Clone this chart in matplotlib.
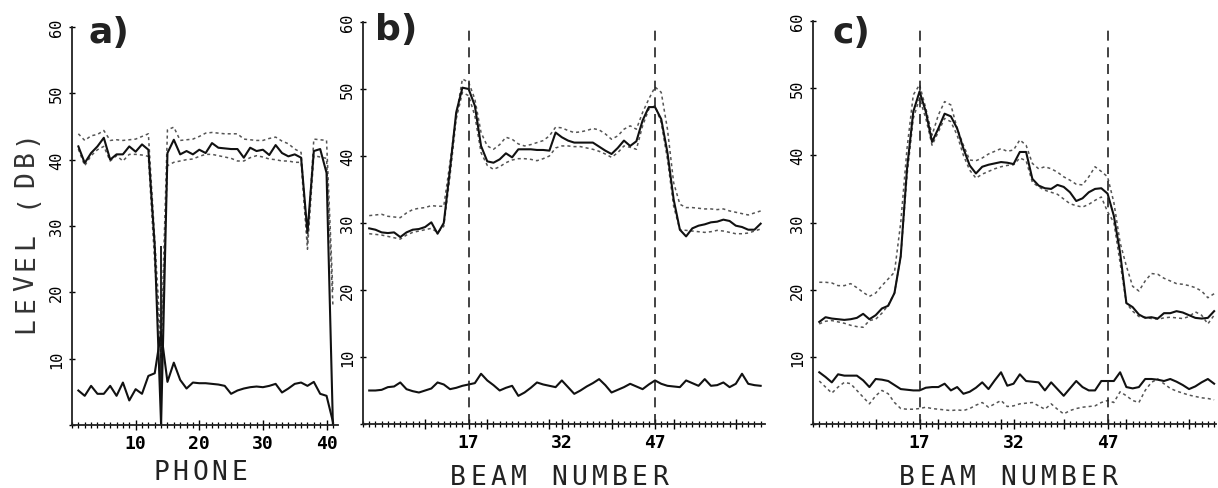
import numpy as np
import matplotlib
matplotlib.use("Agg")
import matplotlib.pyplot as plt
from matplotlib.ticker import MultipleLocator

W, H = 1218, 489

# ---- panel a : level per phone ----
phones = np.arange(1, 42)
a_main = [42.0, 39.5, 41.0, 42.0, 43.3, 40.0, 40.8, 40.8, 42.0, 41.2,
          42.3, 41.5, 27.0, 0.0, 41.0, 43.0, 40.8, 41.3, 40.8, 41.5,
          41.0, 42.5, 41.8, 41.7, 41.6, 41.6, 40.3, 41.8, 41.3, 41.5,
          40.7, 42.2, 41.0, 40.5, 40.8, 40.3, 29.0, 41.3, 41.6, 38.0, 0.0]
a_upper = [43.9, 42.9, 43.6, 43.8, 44.4, 42.9, 43.0, 42.9, 43.0, 43.1,
           43.5, 43.9, 28.0, 12.0, 44.5, 44.9, 42.9, 43.0, 43.1, 43.5,
           44.0, 44.1, 44.0, 43.9, 43.9, 43.9, 43.1, 43.0, 42.9, 42.9,
           43.2, 43.4, 42.8, 42.4, 41.6, 41.1, 27.5, 43.1, 43.0, 42.9, 20.0]
a_lower = [41.6, 39.1, 40.6, 41.5, 42.0, 39.8, 40.6, 39.8, 40.8, 40.8,
           40.7, 40.5, 24.5, 10.0, 39.1, 39.6, 39.8, 40.0, 40.1, 40.5,
           40.8, 40.8, 40.6, 40.4, 40.2, 39.8, 39.8, 40.3, 40.6, 40.4,
           40.1, 40.0, 39.8, 39.8, 39.6, 39.6, 26.5, 40.6, 40.4, 40.2, 18.0]
a_noise = [5.2, 4.4, 5.9, 4.7, 4.7, 5.9, 4.4, 6.4, 3.7, 5.4,
           4.7, 7.4, 7.8, 14.0, 6.5, 9.4, 6.8, 5.5, 6.4, 6.3,
           6.3, 6.2, 6.1, 5.9, 4.7, 5.2, 5.5, 5.7, 5.8, 5.7,
           5.9, 6.2, 4.9, 5.5, 6.2, 6.4, 5.9, 6.5, 4.7, 4.4, 0.5]
a_bad_phone = 14

# ---- panel b : level per beam ----
beams = np.arange(1, 65)
b_main = [29.2, 29.0, 28.6, 28.5, 28.6, 27.9, 28.6, 29.0, 29.1, 29.4,
          30.1, 28.4, 30.0, 38.0, 46.5, 50.2, 50.0, 47.5, 41.5, 39.2,
          39.0, 39.5, 40.4, 39.8, 41.0, 41.0, 41.0, 40.9, 40.9, 40.8,
          43.5, 42.8, 42.3, 42.0, 42.0, 42.0, 42.0, 41.4, 40.8, 40.3,
          41.2, 42.3, 41.5, 42.2, 45.3, 47.3, 47.3, 45.5, 40.5, 33.5,
          29.0, 28.0, 29.2, 29.6, 29.8, 30.1, 30.2, 30.5, 30.3, 29.6,
          29.4, 29.0, 29.0, 29.9]
b_upper = [31.1, 31.2, 31.3, 31.0, 30.9, 30.8, 31.5, 32.0, 32.2, 32.3,
           32.6, 32.5, 32.5, 39.0, 46.0, 51.5, 51.0, 48.5, 43.5, 41.5,
           41.0, 41.7, 42.8, 42.5, 41.8, 41.5, 41.7, 42.0, 42.3, 43.0,
           44.3, 44.2, 43.8, 43.5, 43.6, 43.8, 44.1, 43.9, 43.3, 42.5,
           43.0, 44.0, 44.5, 44.0, 46.5, 48.5, 50.3, 49.5, 44.0, 36.0,
           32.8, 32.3, 32.3, 32.2, 32.1, 32.1, 32.0, 32.1, 31.8, 31.6,
           31.4, 31.2, 31.5, 31.8]
b_lower = [28.4, 28.3, 28.2, 28.0, 27.8, 27.6, 28.2, 28.6, 28.8, 29.0,
           29.2, 28.6, 29.5, 37.0, 45.5, 49.5, 49.0, 46.0, 40.5, 38.6,
           38.0, 38.4, 39.0, 39.4, 39.6, 39.6, 39.5, 39.3, 39.6, 40.0,
           41.2, 41.5, 41.5, 41.4, 41.4, 41.2, 41.0, 40.7, 40.3, 39.8,
           40.5, 41.5, 41.3, 41.0, 44.5, 47.0, 47.5, 45.0, 39.5, 32.5,
           29.0, 28.9, 28.8, 28.7, 28.6, 28.7, 28.9, 28.8, 28.6, 28.4,
           28.4, 28.5, 28.8, 29.1]
b_noise = [5.0, 5.0, 5.1, 5.5, 5.6, 6.2, 5.2, 4.9, 4.7, 5.0,
           5.3, 6.2, 5.9, 5.2, 5.4, 5.7, 5.9, 6.1, 7.5, 6.5,
           5.8, 5.0, 5.4, 5.7, 4.2, 4.7, 5.4, 6.2, 5.9, 5.7,
           5.5, 6.5, 5.5, 4.5, 5.0, 5.6, 6.1, 6.7, 5.8, 4.7,
           5.1, 5.5, 6.0, 5.6, 5.2, 5.9, 6.5, 6.0, 5.7, 5.6,
           5.5, 6.5, 6.1, 5.7, 6.7, 5.7, 5.8, 6.2, 5.5, 6.0,
           7.5, 6.0, 5.8, 5.7]

# ---- panel c ----
c_main = [15.2, 15.9, 15.7, 15.6, 15.5, 15.6, 15.8, 16.4, 15.6, 16.2,
          17.2, 17.6, 19.5, 25.0, 38.0, 46.5, 49.5, 46.5, 42.0, 44.0,
          46.2, 45.8, 44.0, 41.0, 38.5, 37.3, 38.3, 38.6, 38.8, 39.0,
          38.9, 38.7, 40.5, 40.5, 36.5, 35.5, 35.1, 35.0, 35.6, 35.3,
          34.5, 33.2, 33.6, 34.5, 35.0, 35.1, 34.3, 31.0, 25.5, 18.0,
          17.4, 16.3, 15.8, 15.9, 15.7, 16.5, 16.5, 16.8, 16.6, 16.2,
          15.8, 15.7, 15.8, 16.8]
c_upper = [21.1, 21.1, 21.0, 20.6, 20.6, 20.9, 20.3, 19.6, 19.0, 19.5,
           20.6, 21.6, 22.6, 30.0, 41.0, 49.0, 50.5, 47.0, 43.0, 46.0,
           48.0, 47.5, 44.0, 41.5, 39.3, 39.2, 39.6, 40.2, 40.6, 41.0,
           40.6, 40.8, 42.3, 41.5, 38.8, 38.0, 38.3, 38.0, 37.5, 36.8,
           36.3, 35.7, 35.6, 36.8, 38.3, 37.6, 36.8, 33.0, 27.0, 23.5,
           20.5, 19.8, 21.3, 22.4, 22.3, 21.7, 21.3, 20.9, 20.8, 20.6,
           20.3, 19.8, 18.8, 19.4]
c_lower = [14.9, 15.3, 15.4, 15.2, 15.0, 14.7, 14.5, 14.4, 15.4, 15.6,
           16.5, 17.7, 19.5, 25.0, 37.0, 45.5, 48.5, 45.5, 41.5, 43.5,
           45.5, 45.0, 43.0, 40.0, 37.8, 36.6, 37.2, 37.6, 38.0, 38.3,
           38.5, 38.6, 39.6, 39.2, 36.0, 35.3, 34.8, 34.5, 34.2, 33.5,
           32.8, 32.5, 32.3, 32.7, 33.3, 33.8, 31.6, 30.0, 24.0, 18.0,
           16.8, 16.0, 15.9, 15.7, 15.6, 15.8, 15.9, 15.8, 15.7, 16.0,
           16.7, 16.2, 14.9, 16.2]
c_noise = [7.7, 7.0, 6.2, 7.4, 7.2, 7.2, 7.2, 6.5, 5.5, 6.7,
           6.6, 6.4, 5.8, 5.2, 5.1, 5.0, 5.0, 5.4, 5.5, 5.5,
           6.0, 5.0, 5.5, 4.5, 4.8, 5.4, 6.2, 5.2, 6.5, 7.7,
           5.7, 6.0, 7.4, 6.4, 6.3, 6.2, 5.0, 6.2, 5.2, 4.2,
           5.3, 6.4, 5.5, 5.0, 5.0, 6.4, 6.4, 6.4, 7.7, 5.5,
           5.3, 5.5, 6.7, 6.7, 6.6, 6.4, 6.7, 6.3, 5.8, 5.2,
           5.6, 6.2, 6.7, 6.0]
c_noise_low = [6.4, 5.5, 4.6, 5.5, 6.2, 6.0, 5.0, 4.0, 3.0, 4.2,
               5.0, 4.5, 3.2, 2.3, 2.2, 2.2, 2.3, 2.5, 2.3, 2.2,
               2.1, 2.0, 2.1, 2.0, 2.3, 2.8, 3.2, 2.5, 3.0, 3.5,
               2.6, 2.7, 3.0, 3.1, 3.2, 2.7, 2.2, 3.0, 2.2, 1.5,
               2.0, 2.3, 2.5, 2.6, 2.7, 3.2, 3.5, 3.2, 4.8, 4.2,
               3.5, 3.2, 5.0, 6.2, 6.7, 6.0, 5.3, 4.9, 4.6, 4.3,
               4.1, 3.9, 3.8, 3.6]

marked_beams = [17, 47]

SOLID = dict(color="#111111", lw=1.5, ls="-")
DOTTED = dict(color="#555555", lw=1.1, ls=(0, (2.0, 2.0)))
MONO = "DejaVu Sans Mono"


def spaced_text(fig, s, x, y, pitch, rot=0, **kw):
    # one glyph at a time so the letters get the wide plotter spacing
    n = len(s)
    for i, ch in enumerate(s):
        off = (i - (n - 1) / 2) * pitch
        if rot == 0:
            fig.text((x + off) / W, 1 - y / H, ch, ha="center", va="baseline",
                     rotation_mode="anchor", family=MONO, **kw)
        else:
            fig.text(x / W, 1 - (y - off) / H, ch, rotation=90, ha="center",
                     va="baseline", rotation_mode="anchor", family=MONO, **kw)


def style_axes(ax, xmax):
    ax.set_ylim(0, 60)
    ax.set_xlim(0, xmax)
    for s in ["top", "right"]:
        ax.spines[s].set_visible(False)
    for s in ["left", "bottom"]:
        ax.spines[s].set_linewidth(1.3)
        ax.spines[s].set_color("#222222")
    ax.xaxis.set_minor_locator(MultipleLocator(1))
    ax.tick_params(axis="y", which="major", direction="inout", length=5,
                   width=1, pad=3, labelsize=11, labelrotation=90)
    ax.tick_params(axis="x", which="major", direction="inout", length=7,
                   width=1, pad=3, labelsize=13)
    ax.tick_params(axis="x", which="minor", direction="inout", length=4,
                   width=0.9)
    ax.set_yticks([0, 10, 20, 30, 40, 50, 60], ["", "10", "20", "30", "40", "50", "60"])
    for lab in ax.get_yticklabels():
        lab.set_va("center")
        lab.set_family(MONO)
    for lab in ax.get_xticklabels():
        lab.set_family(MONO)
        lab.set_fontweight("bold")


fig = plt.figure(figsize=(W / 100, H / 100), dpi=100)

ax_a = fig.add_axes([72 / W, 1 - 426 / H, 266 / W, 398 / H])
ax_b = fig.add_axes([363 / W, 1 - 425 / H, 402 / W, 402 / H])
ax_c = fig.add_axes([813 / W, 1 - 425 / H, 403 / W, 403 / H])

# panel a
ax_a.plot(phones, a_upper, **DOTTED)
ax_a.plot(phones, a_lower, **DOTTED)
ax_a.plot(phones, a_main, **SOLID)
ax_a.plot(phones, a_noise, **SOLID)
ax_a.vlines(a_bad_phone, 0, a_main[a_bad_phone - 2], color="#111111", lw=1.3)
ax_a.set_xticks([10, 20, 30, 40])
style_axes(ax_a, 41.8)

# panel b
ax_b.plot(beams, b_upper, **DOTTED)
ax_b.plot(beams, b_lower, **DOTTED)
ax_b.plot(beams, b_main, **SOLID)
ax_b.plot(beams, b_noise, **SOLID)

# panel c
ax_c.plot(beams, c_upper, **DOTTED)
ax_c.plot(beams, c_lower, **DOTTED)
ax_c.plot(beams, c_noise_low, **DOTTED)
ax_c.plot(beams, c_main, **SOLID)
ax_c.plot(beams, c_noise, **SOLID)

for ax, xmax in [(ax_b, 64.7), (ax_c, 64.3)]:
    ax.vlines(marked_beams, 0, 59, color="#222222", lw=1.2, ls=(0, (6, 4)))
    ax.set_xticks([10, 17, 20, 30, 32, 40, 47, 50, 60],
                  ["", "17", "", "", "32", "", "47", "", ""])
    style_axes(ax, xmax)

# panel letters
for lab, x, y in [("a)", 88, 43), ("b)", 375, 40), ("c)", 833, 43)]:
    fig.text(x / W, 1 - y / H, lab, fontsize=26, fontweight="bold",
             ha="left", va="baseline", color="#222222")

# axis titles in the wide plotter lettering
spaced_text(fig, "LEVEL (DB)", 33, 231, 20.9, rot=90, fontsize=19, color="#333333")
spaced_text(fig, "PHONE", 200, 480, 19.5, fontsize=19, color="#222222")
spaced_text(fig, "BEAM NUMBER", 559, 485, 20.2, fontsize=19, color="#222222")
spaced_text(fig, "BEAM NUMBER", 1008, 485, 20.2, fontsize=19, color="#222222")

fig.savefig("out.png", dpi=100, facecolor="white")
